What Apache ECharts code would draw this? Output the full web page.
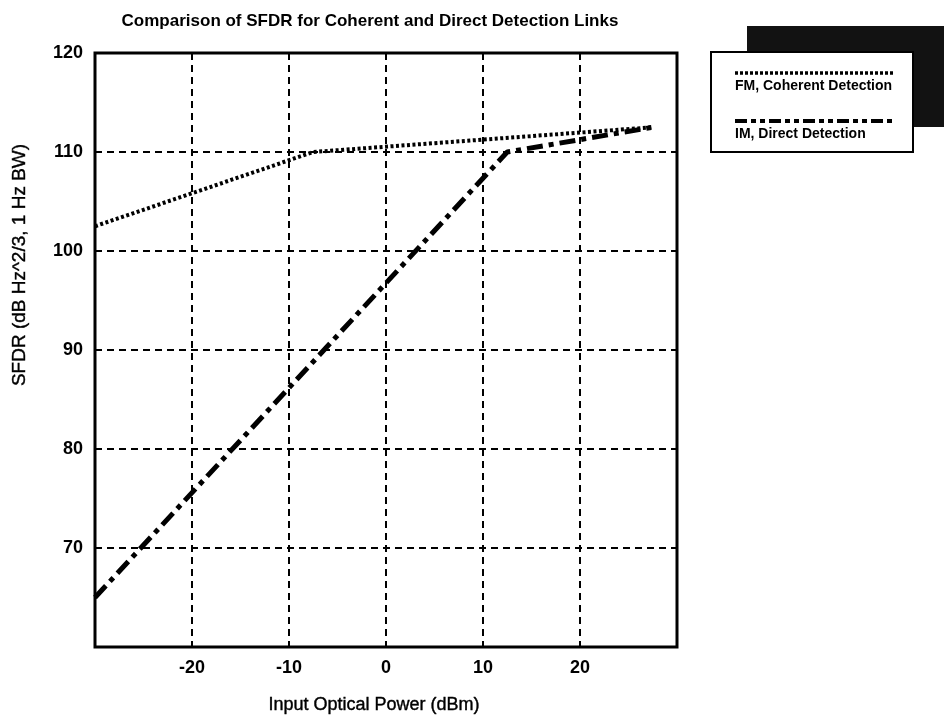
<!DOCTYPE html>
<html>
<head>
<meta charset="utf-8">
<script src="https://cdn.jsdelivr.net/npm/echarts@6/dist/echarts.min.js"></script>
<style>html,body{margin:0;padding:0;background:#fff;}#c{width:944px;height:721px;}</style>
</head>
<body>
<div id="c"></div>
<script>
const titleText = 'Comparison of SFDR for Coherent and Direct Detection Links';
const xName = 'Input Optical Power (dBm)';
const yName = 'SFDR (dB Hz^2/3, 1 Hz BW)';
const seriesNames = ['FM, Coherent Detection', 'IM, Direct Detection'];
const fmX = [-30, -7.5, 27.5];
const fmY = [102.5, 110, 112.5];
const imX = [-30, 12.5, 27.5];
const imY = [65, 110, 112.5];
const xTicks = [-20, -10, 0, 10, 20];
const yTicks = [70, 80, 90, 100, 110, 120];

const F = 'Liberation Sans, Arial, sans-serif';
const chart = echarts.init(document.getElementById('c'), null, {renderer: 'canvas'});
const zip = (a, b) => a.map((v, i) => [v, b[i]]);
const fmStyle = {color: '#000', width: 4, type: [3, 2.5]};
const imStyle = {color: '#000', width: 5, type: [16, 6, 5, 6]};
chart.setOption({
  animation: false,
  backgroundColor: '#fff',
  title: {text: titleText, left: 365, textAlign: 'center', top: 8,
    textStyle: {fontFamily: F, fontSize: 17, fontWeight: 'bold', color: '#000'}},
  grid: {left: 95, right: 267, top: 53, bottom: 74, show: true, borderColor: '#000', borderWidth: 3, backgroundColor: 'transparent'},
  xAxis: {type: 'value', min: -30, max: 30, interval: 10,
    name: xName, nameLocation: 'middle', nameGap: 49,
    nameTextStyle: {fontFamily: F, fontSize: 18, color: '#000', padding: [0, 24, 0, 0],
      textBorderColor: '#000', textBorderWidth: 0.4},
    axisLine: {show: false}, axisTick: {show: false},
    axisLabel: {margin: 12, fontFamily: F, fontSize: 18, fontWeight: 'bold', color: '#000',
      formatter: v => xTicks.includes(v) ? String(v) : ''},
    splitLine: {show: true, lineStyle: {color: '#000', width: 2, type: [7, 5]}}},
  yAxis: {type: 'value', min: 60, max: 120, interval: 10,
    axisLine: {show: false}, axisTick: {show: false},
    axisLabel: {margin: 12, fontFamily: F, fontSize: 18, fontWeight: 'bold', color: '#000',
      formatter: v => yTicks.includes(v) ? String(v) : ''},
    splitLine: {show: true, lineStyle: {color: '#000', width: 2, type: [7, 5]}}},
  series: [
    {name: seriesNames[0], type: 'line', data: zip(fmX, fmY), symbol: 'none', lineStyle: fmStyle, z: 5},
    {name: seriesNames[1], type: 'line', data: zip(imX, imY), symbol: 'none', lineStyle: imStyle, z: 4}
  ],
  graphic: [
    {type: 'text', x: 20, y: 265, rotation: Math.PI / 2,
      style: {text: yName, fontFamily: F, fontSize: 19, fill: '#000', align: 'center', verticalAlign: 'middle',
        stroke: '#000', lineWidth: 0.4}},
    {type: 'rect', shape: {x: 747, y: 26, width: 202, height: 101}, style: {fill: '#121212'}, z: 10},
    {type: 'rect', shape: {x: 711, y: 52, width: 202, height: 100}, style: {fill: '#fff', stroke: '#000', lineWidth: 2}, z: 11},
    {type: 'line', shape: {x1: 735, y1: 73, x2: 894, y2: 73}, style: {stroke: '#000', lineWidth: 3.5, lineDash: [3, 2]}, z: 12},
    {type: 'text', x: 735, y: 86, style: {text: seriesNames[0], fontFamily: F, fontSize: 14, fontWeight: 'bold', fill: '#000', verticalAlign: 'middle'}, z: 12},
    {type: 'line', shape: {x1: 735, y1: 121, x2: 894, y2: 121}, style: {stroke: '#000', lineWidth: 4, lineDash: [12, 4, 5, 4, 5, 4]}, z: 12},
    {type: 'text', x: 735, y: 134, style: {text: seriesNames[1], fontFamily: F, fontSize: 14, fontWeight: 'bold', fill: '#000', verticalAlign: 'middle'}, z: 12}
  ]
});
</script>
</body>
</html>
